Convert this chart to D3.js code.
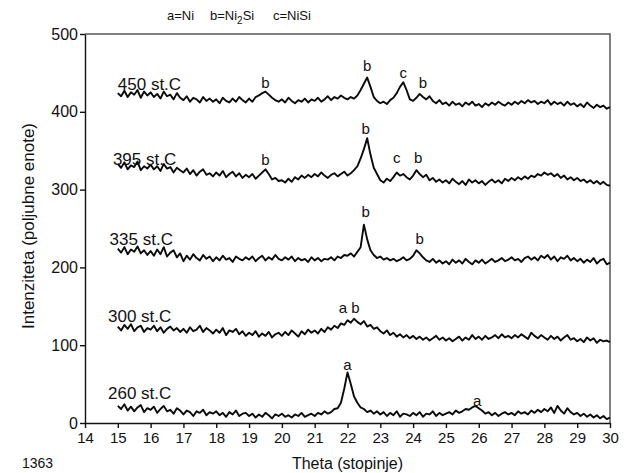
<!DOCTYPE html>
<meta charset="utf-8">
<script src="https://d3js.org/d3.v7.min.js"></script>
<style>
  body { margin: 0; background: #fff; }
  text { font-family: "Liberation Sans", Arial, sans-serif; fill: #111; }
</style>
<div id="chart"></div>
<script>
// scan angle grid: 15.0 .. 30.0 in steps of 0.1
var theta = d3.range(151).map(function (i) { return 15 + i / 10; });

var s260 = [
  22, 18, 24, 16, 21, 15, 20, 23, 14, 19,
  17, 21, 13, 18, 22, 15, 17, 12, 19, 16,
  11, 16, 14, 9, 15, 13, 17, 10, 14, 12,
  15, 10, 13, 8, 14, 11, 16, 9, 12, 13,
  9, 12, 7, 11, 8, 13, 10, 6, 11, 9,
  12, 8, 10, 7, 11, 9, 13, 8, 10, 12,
  9, 13, 11, 15, 12, 14, 18, 19, 26, 44,
  65, 50, 34, 26, 20, 18, 14, 16, 12, 15,
  11, 14, 9, 13, 10, 15, 8, 12, 11, 9,
  13, 10, 14, 8, 12, 11, 15, 9, 13, 10,
  12, 14, 11, 16, 13, 15, 18, 17, 20, 22,
  19, 16, 12, 14, 10, 13, 9, 12, 14, 11,
  13, 10, 15, 12, 14, 11, 16, 13, 17, 14,
  18, 15, 20, 13, 22, 16, 12, 19, 14, 11,
  13, 9, 12, 8, 11, 7, 10, 6, 9, 5,
  7];

var s300 = [
  124, 119, 126, 121, 127, 118, 123, 125, 117, 122,
  120, 125, 118, 123, 116, 121, 124, 119, 122, 117,
  121, 116, 123, 118, 120, 125, 117, 122, 119, 115,
  120, 116, 122, 113, 119, 117, 121, 114, 118, 112,
  116, 113, 118, 111, 115, 112, 117, 110, 114, 116,
  112, 117, 113, 119, 115, 111, 118, 114, 120, 116,
  119, 115, 121, 117, 123, 120, 125, 122, 128, 126,
  132, 129, 134, 130, 127, 131, 124, 126, 121, 123,
  118, 115, 119, 113, 116, 111, 114, 110, 113, 109,
  112, 108, 111, 107, 110, 106, 109, 112, 107, 110,
  106, 109, 105, 108, 111, 106, 110, 107, 113, 108,
  111, 107, 112, 108, 110, 113, 109, 114, 110, 112,
  109, 113, 110, 114, 111, 108, 116, 112, 109, 113,
  110, 107, 112, 108, 111, 106, 110, 113, 107, 109,
  105, 108, 104, 110, 106, 109, 103, 107, 105, 106,
  104];

var s335 = [
  224, 219, 226, 217, 223, 220, 227, 218, 222, 216,
  221, 215, 223, 217, 226, 214, 219, 222, 213, 218,
  208, 215, 210, 217, 212, 209, 216, 211, 214, 208,
  213, 209, 215, 210, 212, 207, 214, 211, 209, 213,
  210, 214, 208, 212, 215, 209, 213, 210, 216, 211,
  209, 213, 210, 214, 208, 212, 209, 211, 207, 213,
  209, 212, 208, 211, 210, 213, 209, 214, 212, 216,
  215, 218, 214, 220, 226, 255, 236, 222, 216, 212,
  214, 210, 212, 209, 211, 208, 210, 213, 209, 211,
  215, 222, 218, 213, 209, 207, 211, 206, 209, 205,
  208, 204, 210, 206, 209, 205, 211, 207, 204, 209,
  206, 210, 205, 208, 211, 207, 209, 212, 208, 210,
  213, 209, 211, 207, 212, 214, 210, 213, 209, 215,
  212, 216, 210, 214, 208, 213, 211, 215, 209, 212,
  208, 211, 206, 210, 207, 212, 205, 209, 211, 204,
  206];

var s395 = [
  333, 328, 335, 326, 331, 329, 336, 325, 330, 327,
  332, 326, 330, 324, 333, 327, 329, 322, 328, 325,
  322, 327, 320, 325, 318, 323, 326, 319, 321, 317,
  322, 318, 324, 316, 320, 323, 317, 321, 315, 319,
  316, 320, 314, 318, 322, 326, 320, 313, 315, 311,
  312, 309, 314, 310, 316, 313, 318, 315, 319, 316,
  320, 317, 322, 318, 315, 319, 321, 317, 320, 323,
  318, 321, 325, 330, 340, 352, 366, 345, 328, 320,
  312, 309, 314, 311, 316, 322, 318, 320, 316, 313,
  318, 325, 320, 316, 319, 312, 315, 310, 313, 309,
  312, 308, 314, 310, 307, 311, 306, 313, 309, 312,
  308, 311, 306, 310, 313, 309, 312, 308, 314, 311,
  315, 312, 316, 313, 317, 314, 318, 316, 320, 318,
  322, 319, 321, 317, 320, 315, 318, 313, 316, 312,
  315, 311, 313, 309, 312, 308, 311, 307, 310, 306,
  305];

var s450 = [
  424, 420, 427, 419, 425, 422, 428, 418, 426, 421,
  425, 419, 423, 417, 426, 420, 422, 416, 424, 418,
  415, 420, 413, 418, 416, 412, 419, 414, 417, 413,
  416, 411, 418, 414, 412, 417, 413, 419, 415, 412,
  417, 413, 419, 421, 424, 426, 422, 418, 415, 413,
  416, 412, 418, 414, 411, 415, 413, 417, 412, 416,
  414, 418, 413, 416, 420, 415, 419, 417, 421, 418,
  416, 419, 417, 421, 428, 436, 444, 432, 419, 414,
  411, 413, 410, 415, 418, 424, 432, 438, 428, 416,
  414, 418, 423, 419, 416, 420, 414, 411, 415, 410,
  412, 408, 413, 409, 411, 407, 412, 409, 413, 408,
  410, 406, 411, 408, 412, 409, 413, 410, 408, 412,
  409, 413, 410, 414, 411, 415, 412, 414, 410, 413,
  411, 415, 409, 413, 410, 412, 408, 413, 409, 411,
  407, 410, 406, 412, 408, 405, 409, 406, 408, 404,
  406];

var seriesNames = ["260 st.C", "300 st.C", "335 st.C", "395 st.C", "450 st.C"];
var seriesData = [s260, s300, s335, s395, s450];

// peak markers: [theta, intensity of the label baseline, letter]
var peakTheta = [22.0, 25.95, 22.05, 22.55, 24.2, 19.5, 22.55, 23.5, 24.15, 19.5, 22.6, 23.7, 24.3];
var peakValue = [68, 22, 141, 265, 230, 332, 371, 334, 334, 430, 453, 443, 430];
var peakText  = ["a", "a", "a b", "b", "b", "b", "b", "c", "b", "b", "b", "c", "b"];

var legendText = ["a=Ni", "b=Ni|2|Si", "c=NiSi"];

var xTicks = d3.range(14, 31);
var yTicks = [0, 100, 200, 300, 400, 500];

var width = 626, height = 473;
var margin = { top: 34, right: 16, bottom: 50, left: 85 };

var x = d3.scaleLinear().domain([14, 30]).range([margin.left, width - margin.right]);
var y = d3.scaleLinear().domain([0, 500]).range([height - margin.bottom, margin.top]);

var svg = d3.select("#chart").append("svg")
  .attr("width", width)
  .attr("height", height);

// frame top + right
svg.append("path")
  .attr("d", "M" + x(14) + "," + y(500) + "H" + x(30) + "V" + y(0))
  .attr("fill", "none")
  .attr("stroke", "#555")
  .attr("stroke-width", 1.5);

var xAxis = d3.axisBottom(x).tickValues(xTicks).tickSize(5).tickSizeOuter(0).tickPadding(4)
  .tickFormat(d3.format("d"));
var yAxis = d3.axisLeft(y).tickValues(yTicks).tickSize(5).tickSizeOuter(0).tickPadding(2);

var gx = svg.append("g")
  .attr("transform", "translate(0," + y(0) + ")")
  .call(xAxis);
gx.selectAll("text").style("font-size", "15px").attr("fill", "#111");

var gy = svg.append("g")
  .attr("transform", "translate(" + x(14) + ",0)")
  .call(yAxis);
gy.selectAll("text").style("font-size", "16px").attr("fill", "#111");

svg.selectAll(".domain, .tick line").attr("stroke", "#111").attr("stroke-width", 1.4);

// traces
var line = d3.line()
  .x(function (d, i) { return x(theta[i]); })
  .y(function (d) { return y(d); });

svg.append("g").selectAll("path")
  .data(seriesData)
  .join("path")
  .attr("d", line)
  .attr("fill", "none")
  .attr("stroke", "#0a0a0a")
  .attr("stroke-width", 1.9)
  .attr("stroke-linejoin", "round");

// temperature labels
var labelTheta = [14.7, 14.7, 14.75, 14.85, 15.0];
var labelValue = [31, 130, 229, 331, 428];
svg.append("g").selectAll("text")
  .data(seriesNames)
  .join("text")
  .attr("x", function (d, i) { return x(labelTheta[i]); })
  .attr("y", function (d, i) { return y(labelValue[i]); })
  .style("font-size", "17px")
  .text(function (d) { return d; });

// peak letters
svg.append("g").selectAll("text")
  .data(peakText)
  .join("text")
  .attr("x", function (d, i) { return x(peakTheta[i]); })
  .attr("y", function (d, i) { return y(peakValue[i]); })
  .attr("text-anchor", "middle")
  .style("font-size", "15px")
  .text(function (d) { return d; });

// legend
var legendX = [167, 210, 273];
legendText.forEach(function (t, i) {
  var parts = t.split("|");
  var tx = svg.append("text")
    .attr("x", legendX[i])
    .attr("y", 20)
    .style("font-size", "13px");
  tx.append("tspan").text(parts[0]);
  if (parts.length > 1) {
    tx.append("tspan").attr("dy", 4).style("font-size", "10px").text(parts[1]);
    tx.append("tspan").attr("dy", -4).text(parts[2]);
  }
});

// axis titles
svg.append("text")
  .attr("x", (x(14) + x(30)) / 2)
  .attr("y", 469)
  .attr("text-anchor", "middle")
  .style("font-size", "16px")
  .text("Theta (stopinje)");

svg.append("text")
  .attr("transform", "translate(34," + 226 + ") rotate(-90)")
  .attr("text-anchor", "middle")
  .style("font-size", "17px")
  .text("Intenziteta (poljubne enote)");

svg.append("text")
  .attr("x", 22)
  .attr("y", 468)
  .style("font-size", "14px")
  .text("1363");
</script>
